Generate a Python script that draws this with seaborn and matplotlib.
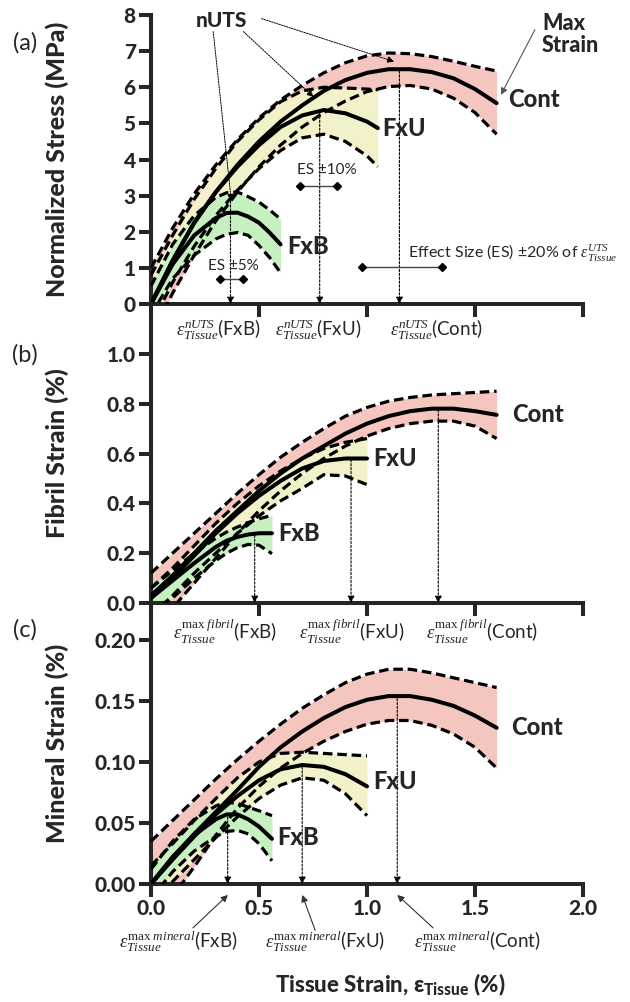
import matplotlib
matplotlib.use("Agg")
import pandas as pd
import matplotlib.pyplot as plt
import seaborn as sns

# ==========================================================
#  Data
# ==========================================================
X_CONT = [0.0, 0.1, 0.2, 0.3, 0.4, 0.5, 0.6, 0.7, 0.8, 0.9, 1.0, 1.1, 1.2, 1.3, 1.4, 1.5, 1.6]
X_FXU = [0.0, 0.1, 0.2, 0.3, 0.4, 0.5, 0.6, 0.7, 0.8, 0.9, 1.0]
X_FXU_A = [0.0, 0.1, 0.2, 0.3, 0.4, 0.5, 0.6, 0.7, 0.8, 0.9, 1.0, 1.05]
X_FXB = [0.0, 0.1, 0.2, 0.3, 0.35, 0.4, 0.45, 0.5, 0.56]
X_FXB_A = [0.0, 0.1, 0.2, 0.3, 0.35, 0.4, 0.45, 0.5, 0.55, 0.6]

# (a) normalized stress, MPa
A_CONT_MEAN = [0.0, 1.2, 2.25, 3.1, 3.85, 4.5, 5.05, 5.5, 5.9, 6.2, 6.4, 6.5, 6.5, 6.42, 6.25, 5.95, 5.56]
A_CONT_UP = [1.0, 2.1, 3.05, 3.85, 4.55, 5.15, 5.65, 6.05, 6.4, 6.68, 6.87, 6.95, 6.93, 6.85, 6.72, 6.58, 6.45]
A_CONT_LO = [-0.9, 0.3, 1.35, 2.3, 3.1, 3.8, 4.4, 4.9, 5.3, 5.62, 5.88, 6.02, 6.05, 5.95, 5.7, 5.3, 4.7]
A_FXU_MEAN = [0.0, 1.2, 2.25, 3.1, 3.8, 4.4, 4.9, 5.22, 5.37, 5.28, 5.05, 4.87]
A_FXU_UP = [0.8, 1.9, 2.9, 3.75, 4.5, 5.1, 5.6, 5.9, 6.0, 5.98, 5.95, 5.93]
A_FXU_LO = [-0.6, 0.6, 1.6, 2.45, 3.15, 3.75, 4.25, 4.6, 4.7, 4.5, 4.1, 3.8]
A_FXB_MEAN = [0.0, 1.1, 1.9, 2.38, 2.52, 2.53, 2.42, 2.25, 1.97, 1.65]
A_FXB_UP = [0.5, 1.65, 2.45, 2.95, 3.08, 3.1, 2.97, 2.82, 2.6, 2.35]
A_FXB_LO = [-0.3, 0.7, 1.35, 1.8, 1.93, 1.98, 1.9, 1.62, 1.28, 0.86]

# (b) fibril strain, %
B_CONT_MEAN = [0.03, 0.11, 0.2, 0.29, 0.37, 0.45, 0.52, 0.58, 0.63, 0.68, 0.72, 0.75, 0.77, 0.78, 0.78, 0.77, 0.755]
B_CONT_UP = [0.12, 0.2, 0.28, 0.36, 0.44, 0.515, 0.585, 0.645, 0.7, 0.75, 0.785, 0.81, 0.825, 0.835, 0.84, 0.845, 0.85]
B_CONT_LO = [-0.15, -0.02, 0.08, 0.18, 0.28, 0.37, 0.45, 0.52, 0.58, 0.63, 0.67, 0.7, 0.72, 0.73, 0.73, 0.71, 0.66]
B_FXU_MEAN = [0.02, 0.1, 0.19, 0.28, 0.36, 0.43, 0.49, 0.54, 0.57, 0.58, 0.58]
B_FXU_UP = [0.06, 0.14, 0.23, 0.32, 0.4, 0.47, 0.53, 0.58, 0.62, 0.645, 0.66]
B_FXU_LO = [-0.05, 0.03, 0.12, 0.2, 0.28, 0.35, 0.41, 0.46, 0.515, 0.51, 0.475]
B_FXB_MEAN = [0.02, 0.09, 0.16, 0.225, 0.25, 0.265, 0.275, 0.28, 0.28]
B_FXB_UP = [0.06, 0.13, 0.2, 0.26, 0.285, 0.305, 0.323, 0.338, 0.352]
B_FXB_LO = [-0.05, 0.02, 0.1, 0.17, 0.2, 0.222, 0.235, 0.232, 0.198]

# (c) mineral strain, %
C_CONT_MEAN = [0.0, 0.022, 0.041, 0.059, 0.077, 0.096, 0.112, 0.125, 0.136, 0.145, 0.151, 0.154, 0.154, 0.151, 0.146, 0.138, 0.128]
C_CONT_UP = [0.035, 0.052, 0.069, 0.086, 0.102, 0.117, 0.131, 0.144, 0.155, 0.165, 0.172, 0.176, 0.176, 0.173, 0.169, 0.165, 0.161]
C_CONT_LO = [-0.03, -0.01, 0.014, 0.04, 0.062, 0.08, 0.095, 0.107, 0.117, 0.125, 0.131, 0.134, 0.134, 0.13, 0.123, 0.112, 0.095]
C_FXU_MEAN = [0.0, 0.02, 0.039, 0.057, 0.072, 0.085, 0.094, 0.0975, 0.096, 0.09, 0.08]
C_FXU_UP = [0.015, 0.033, 0.052, 0.07, 0.087, 0.1, 0.107, 0.108, 0.107, 0.106, 0.105]
C_FXU_LO = [-0.015, 0.002, 0.02, 0.038, 0.055, 0.07, 0.081, 0.087, 0.085, 0.074, 0.056]
C_FXB_MEAN = [0.0, 0.022, 0.04, 0.053, 0.057, 0.057, 0.053, 0.047, 0.037]
C_FXB_UP = [0.012, 0.035, 0.053, 0.064, 0.067, 0.066, 0.063, 0.06, 0.056]
C_FXB_LO = [-0.012, 0.01, 0.027, 0.039, 0.043, 0.044, 0.041, 0.033, 0.019]

GROUPS = ["Cont", "FxU", "FxB"]
GROUP_COLORS = {"Cont": "#f5c6c0", "FxU": "#f3f1c9", "FxB": "#c6f0c0"}

# strain at peak of each group (Cont, FxU, FxB) and where the drop line starts
A_PEAK_X = [1.15, 0.781, 0.368]
A_PEAK_TOP = [6.45, 5.3, 2.85]
B_PEAK_X = [1.33, 0.926, 0.48]
B_PEAK_TOP = [0.775, 0.575, 0.272]
C_PEAK_X = [1.14, 0.70, 0.355]
C_PEAK_TOP = [0.152, 0.096, 0.055]

A_LABEL_XY = [(1.655, 5.65), (1.07, 4.85), (0.63, 1.58)]
B_LABEL_XY = [(1.67, 0.757), (1.03, 0.58), (0.59, 0.28)]
C_LABEL_XY = [(1.665, 0.128), (1.03, 0.084), (0.586, 0.038)]

A_EPS_X = [1.32, 0.775, 0.31]
B_EPS_X = [1.535, 0.93, 0.344]
C_EPS_X = [1.51, 0.806, 0.126]

# effect-size bars: (x0, x1, y, text, text_x, text_y)
ES_BARS = [(0.32, 0.425, 0.69, "ES ±5%", 0.38, 1.04),
           (0.69, 0.86, 3.28, "ES ±10%", 0.813, 3.71),
           (0.977, 1.346, 1.03, None, None, None)]

# ==========================================================
#  Style
# ==========================================================
sns.set_style("ticks")
plt.rcParams["font.family"] = ["Lato", "DejaVu Sans"]
plt.rcParams["mathtext.fontset"] = "custom"
plt.rcParams["mathtext.rm"] = "Liberation Serif"
plt.rcParams["mathtext.it"] = "Liberation Serif:italic"
plt.rcParams["mathtext.bf"] = "Lato:black"
plt.rcParams["axes.linewidth"] = 2.9

HEAVY = "black"
DASH = (0, (3.0, 1.5))


def draw_band(ax, x, mean, up, lo, group):
    df = pd.DataFrame({"x": x, "mean": mean, "up": up, "lo": lo})
    ax.fill_between(df["x"], df["lo"], df["up"], color=GROUP_COLORS[group], lw=0, zorder=1)
    sns.lineplot(data=df, x="x", y="up", ax=ax, color="k", lw=2.3, ls=DASH, sort=False,
                 estimator=None, zorder=3)
    sns.lineplot(data=df, x="x", y="lo", ax=ax, color="k", lw=2.3, ls=DASH, sort=False,
                 estimator=None, zorder=3)
    sns.lineplot(data=df, x="x", y="mean", ax=ax, color="k", lw=2.9, sort=False,
                 estimator=None, zorder=4)


def drop_arrow(ax, x, top):
    ax.annotate("", xy=(x, 0), xytext=(x, top),
                arrowprops=dict(arrowstyle="-|>", color="k", lw=0.8, ls=(0, (2, 1.5)),
                                mutation_scale=10, shrinkA=0, shrinkB=0), zorder=5)


def style_axis(ax, ymax, yticks, fmt, show_xlabels):
    ax.set_xlim(0, 2.0)
    ax.set_ylim(0, ymax)
    ax.set_xticks([0, 0.5, 1.0, 1.5, 2.0])
    ax.set_yticks(yticks)
    ax.set_yticklabels([fmt.format(t) for t in yticks], fontsize=15, fontweight=HEAVY)
    if show_xlabels:
        ax.set_xticklabels(["0.0", "0.5", "1.0", "1.5", "2.0"], fontsize=15, fontweight=HEAVY)
    else:
        ax.set_xticklabels([])
    ax.tick_params(axis="both", direction="out", length=9, width=2.9, pad=2)
    ax.spines["top"].set_visible(False)
    ax.spines["right"].set_visible(False)
    ax.set_xlabel("")
    ax.patch.set_alpha(0)


fig = plt.figure(figsize=(6.3, 10.02), dpi=100)
ax_a = fig.add_axes([0.2397, 0.6966, 0.6857, 0.2884])
ax_b = fig.add_axes([0.2397, 0.3982, 0.6857, 0.2984])
ax_c = fig.add_axes([0.2397, 0.1178, 0.6857, 0.2804])

# ---------------- panel (a)
draw_band(ax_a, X_CONT, A_CONT_MEAN, A_CONT_UP, A_CONT_LO, "Cont")
draw_band(ax_a, X_FXU_A, A_FXU_MEAN, A_FXU_UP, A_FXU_LO, "FxU")
draw_band(ax_a, X_FXB_A, A_FXB_MEAN, A_FXB_UP, A_FXB_LO, "FxB")
style_axis(ax_a, 8, [0, 1, 2, 3, 4, 5, 6, 7, 8], "{:d}", False)
ax_a.set_ylabel("Normalized Stress (MPa)", fontsize=18, fontweight=HEAVY)
ax_a.yaxis.set_label_coords(-0.19, 0.5)

for x, top in zip(A_PEAK_X, A_PEAK_TOP):
    drop_arrow(ax_a, x, top)
for g, (lx, ly) in zip(GROUPS, A_LABEL_XY):
    ax_a.text(lx, ly, g, fontsize=17, fontweight=HEAVY, va="center", ha="left", zorder=6)

for x0, x1, y, txt, tx, ty in ES_BARS:
    ax_a.plot([x0, x1], [y, y], color="#444444", lw=1.0, marker="D", ms=4.5,
              mfc="k", mec="k", zorder=6)
    if txt:
        ax_a.text(tx, ty, txt, fontsize=11, ha="center", va="center", zorder=6)
ax_a.text(1.19, 1.41, r"Effect Size (ES) ±20% of $\varepsilon^{UTS}_{Tissue}$",
          fontsize=11.5, ha="left", va="center", clip_on=False)

# nUTS pointers
ax_a.text(0.326, 7.86, "nUTS", fontsize=15, fontweight=HEAVY, ha="center", va="center")
for (sx, sy), (ex, ey) in zip([(0.288, 7.54), (0.428, 7.54), (0.512, 7.9)],
                              [(0.372, 2.85), (0.753, 5.73), (1.126, 6.71)]):
    ax_a.annotate("", xy=(ex, ey), xytext=(sx, sy),
                  arrowprops=dict(arrowstyle="-|>", color="k", lw=0.7, ls=(0, (1.5, 1.2)),
                                  mutation_scale=10, shrinkA=0, shrinkB=0), zorder=6)
ax_a.text(1.81, 7.45, "Max\nStrain", fontsize=15.5, fontweight=HEAVY, ha="left", va="center",
          linespacing=1.05, clip_on=False)
ax_a.annotate("", xy=(1.62, 5.79), xytext=(1.777, 7.59),
              arrowprops=dict(arrowstyle="-|>", color="#555555", lw=0.8, mutation_scale=10,
                              shrinkA=0, shrinkB=0), zorder=6)
for g, x in zip(GROUPS, A_EPS_X):
    ax_a.text(x, -0.72, r"$\varepsilon^{nUTS}_{Tissue}$(" + g + ")", fontsize=13.5,
              ha="center", va="center", clip_on=False)

# ---------------- panel (b)
draw_band(ax_b, X_CONT, B_CONT_MEAN, B_CONT_UP, B_CONT_LO, "Cont")
draw_band(ax_b, X_FXU, B_FXU_MEAN, B_FXU_UP, B_FXU_LO, "FxU")
draw_band(ax_b, X_FXB, B_FXB_MEAN, B_FXB_UP, B_FXB_LO, "FxB")
style_axis(ax_b, 1.2, [0.0, 0.2, 0.4, 0.6, 0.8, 1.0], "{:.1f}", False)
ax_b.set_ylabel("Fibril Strain (%)", fontsize=18, fontweight=HEAVY)
ax_b.yaxis.set_label_coords(-0.19, 0.5)
for x, top in zip(B_PEAK_X, B_PEAK_TOP):
    drop_arrow(ax_b, x, top)
for g, (lx, ly) in zip(GROUPS, B_LABEL_XY):
    ax_b.text(lx, ly, g, fontsize=17, fontweight=HEAVY, va="center", ha="left", zorder=6)
for g, x in zip(GROUPS, B_EPS_X):
    ax_b.text(x, -0.115, r"$\varepsilon^{\mathrm{max}\ fibril}_{Tissue}$(" + g + ")",
              fontsize=13.5, ha="center", va="center", clip_on=False)

# ---------------- panel (c)
draw_band(ax_c, X_CONT, C_CONT_MEAN, C_CONT_UP, C_CONT_LO, "Cont")
draw_band(ax_c, X_FXU, C_FXU_MEAN, C_FXU_UP, C_FXU_LO, "FxU")
draw_band(ax_c, X_FXB, C_FXB_MEAN, C_FXB_UP, C_FXB_LO, "FxB")
style_axis(ax_c, 0.2303, [0.0, 0.05, 0.10, 0.15, 0.20], "{:.2f}", True)
ax_c.set_ylabel("Mineral Strain (%)", fontsize=18, fontweight=HEAVY)
ax_c.yaxis.set_label_coords(-0.19, 0.5)
for x, top in zip(C_PEAK_X, C_PEAK_TOP):
    drop_arrow(ax_c, x, top)
for g, (lx, ly) in zip(GROUPS, C_LABEL_XY):
    ax_c.text(lx, ly, g, fontsize=17, fontweight=HEAVY, va="center", ha="left", zorder=6)
for g, x in zip(GROUPS, C_EPS_X):
    ax_c.text(x, -0.0475, r"$\varepsilon^{\mathrm{max}\ mineral}_{Tissue}$(" + g + ")",
              fontsize=13.5, ha="center", va="center", clip_on=False)
for (sx, sy), (ex, ey) in zip([(1.306, -0.036), (0.76, -0.038), (0.194, -0.036)],
                              [(1.14, -0.009), (0.70, -0.009), (0.356, -0.009)]):
    ax_c.annotate("", xy=(ex, ey), xytext=(sx, sy), annotation_clip=False,
                  arrowprops=dict(arrowstyle="-|>", color="#333333", lw=0.8,
                                  mutation_scale=10, shrinkA=0, shrinkB=0))

fig.text(0.619, 0.017, r"Tissue Strain, ε$_{\mathbf{Tissue}}$ (%)", fontsize=16,
         fontweight=HEAVY, ha="center", va="center")

# panel letters
fig.text(0.04, 0.957, "(a)", fontsize=17, ha="center", va="center")
fig.text(0.04, 0.646, "(b)", fontsize=17, ha="center", va="center")
fig.text(0.04, 0.371, "(c)", fontsize=17, ha="center", va="center")

fig.savefig("out.png", dpi=100)
plt.close(fig)
